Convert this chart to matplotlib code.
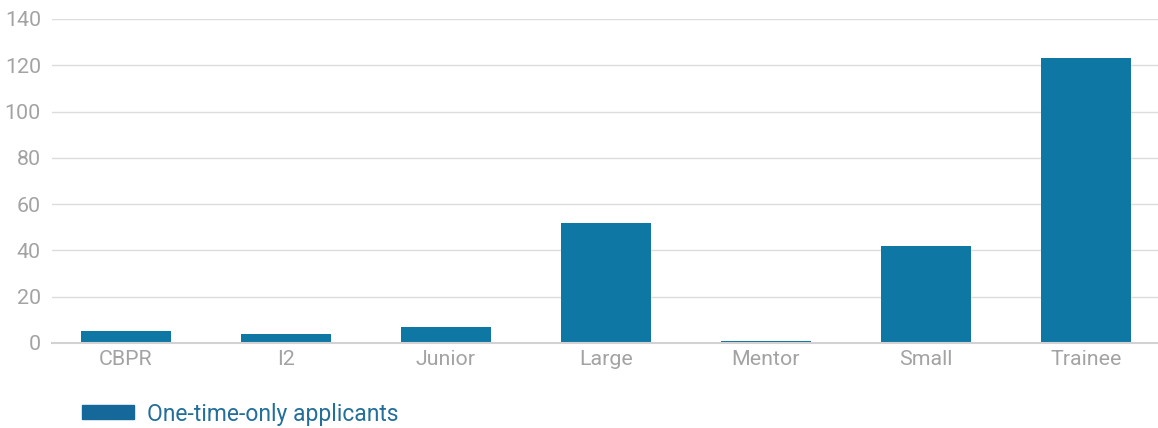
import matplotlib
matplotlib.use("Agg")
import matplotlib.pyplot as plt
import numpy as np

# Data
categories = ['CBPR', 'I2', 'Junior', 'Large', 'Mentor', 'Small', 'Trainee']
applicants = [5, 4, 7, 52, 1, 42, 123]
y_ticks = [0, 20, 40, 60, 80, 100, 120, 140]

bar_color = '#0f77a3'
legend_color = '#14689a'
text_gray = '#a3a3a3'

plt.rcParams['font.family'] = ['Roboto', 'DejaVu Sans']

fig = plt.figure(figsize=(11.58, 4.28), dpi=100)
ax = fig.add_axes([52 / 1158, 1 - 343 / 428, 1 - 52 / 1158, (343 - 19) / 428])

x = np.arange(len(categories))
bars = ax.bar(x, applicants, width=0.5625, color=bar_color, zorder=3,
              label='One-time-only applicants')

ax.set_xlim(-0.4625, 6.45)
ax.set_ylim(0, 140)
ax.set_yticks(y_ticks)
ax.set_xticks(x)
ax.set_xticklabels(categories)

# Grid and spines
ax.grid(axis='y', color='#dcdcdc', linewidth=1, zorder=0)
for side in ['top', 'right', 'left']:
    ax.spines[side].set_visible(False)
ax.spines['bottom'].set_color('#d2d2d2')
ax.spines['bottom'].set_linewidth(1.5)
ax.spines['bottom'].set_zorder(4)

ax.tick_params(axis='both', length=0, labelsize=15.4, labelcolor=text_gray)
ax.tick_params(axis='y', pad=8)
ax.tick_params(axis='x', pad=5)

# Legend below the plot
leg = fig.legend(handles=[plt.Rectangle((0, 0), 1, 1, color=legend_color)],
                 labels=['One-time-only applicants'],
                 loc='center left', bbox_to_anchor=(61 / 1158, 1 - 414 / 428),
                 frameon=False, fontsize=16.5, handlelength=2.27,
                 handleheight=0.57, handletextpad=0.57)
for t in leg.get_texts():
    t.set_color('#236f9a')

fig.savefig('out.png', dpi=100)
